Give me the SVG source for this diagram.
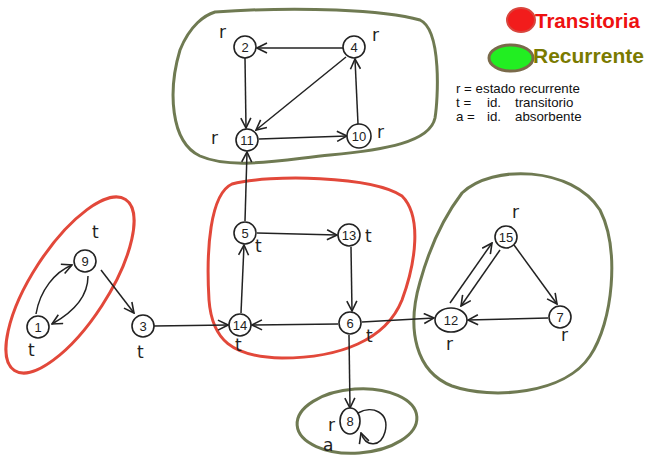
<svg xmlns="http://www.w3.org/2000/svg" width="647" height="458" viewBox="0 0 647 458">
<defs>
<marker id="ah" viewBox="0 0 12 12" refX="11" refY="6" markerWidth="12" markerHeight="12" markerUnits="userSpaceOnUse" orient="auto">
<path d="M1,1 L11,6 L1,11" fill="none" stroke="#222" stroke-width="1.6"/>
</marker>
</defs>
<style>
.bg{fill:#fff}
.red{fill:none;stroke:#e2483a;stroke-width:3}
.grn{fill:none;stroke:#6f7a52;stroke-width:3}
.node circle,.node ellipse{fill:#fff;stroke:#222;stroke-width:1.6}
.num{font-family:"Liberation Sans",Arial,sans-serif;font-size:13px;fill:#222;text-anchor:middle}
.lab{font-family:"DejaVu Sans","Liberation Sans",sans-serif;font-size:17px;fill:#222}
.edge{fill:none;stroke:#222;stroke-width:1.5;marker-end:url(#ah)}
.leg{font-family:"Liberation Sans",Arial,sans-serif;font-size:13.3px;fill:#111}
</style>
<rect class="bg" width="647" height="458"/>
<g id="regions">
<path class="grn" d="M215 12 C300 6,385 10,420 20 C442 30,438 100,435 118 C430 142,385 150,330 155 C280 160,232 170,200 156 C170 142,168 90,180 50 C190 25,205 15,215 12 Z"/>
<ellipse class="red" cx="70" cy="285" rx="102" ry="38" transform="rotate(-57 70 285)"/>
<path class="red" d="M232 184 C270 174,372 176,402 196 C422 216,416 262,402 300 C386 340,340 358,282 358 C232 357,212 340,209 300 C206 250,210 194,232 184 Z"/>
<path class="grn" d="M462 193 C492 164,572 166,600 210 C620 250,613 322,590 356 C565 394,492 400,452 386 C416 372,406 330,420 282 C430 246,446 214,462 193 Z"/>
<ellipse class="grn" cx="357" cy="421" rx="60" ry="32" transform="rotate(-4 357 421)"/>
</g>
<g id="connectors">
<line class="edge" x1="343" y1="48" x2="257" y2="48"/>
<line class="edge" x1="245" y1="58" x2="246" y2="128"/>
<line class="edge" x1="346" y1="57" x2="256" y2="130"/>
<line class="edge" x1="259" y1="139" x2="347" y2="136"/>
<line class="edge" x1="358" y1="124" x2="355" y2="59"/>
<line class="edge" x1="245" y1="221" x2="247" y2="152"/>
<line class="edge" x1="257" y1="233" x2="337" y2="235"/>
<line class="edge" x1="351" y1="247" x2="352" y2="311"/>
<line class="edge" x1="241" y1="313" x2="244" y2="245"/>
<line class="edge" x1="338" y1="324" x2="252" y2="325"/>
<line class="edge" x1="154" y1="326" x2="228" y2="325"/>
<line class="edge" x1="362" y1="322" x2="434" y2="318"/>
<line class="edge" x1="349" y1="335" x2="350" y2="408"/>
<path class="edge" d="M358 413 C372 405,390 412,385 432 C381 447,366 448,361 433"/>
<path class="edge" d="M88 276 C88 298,70 314,52 324"/>
<path class="edge" d="M36 314 C40 290,55 272,72 265"/>
<line class="edge" x1="101" y1="270" x2="134" y2="313"/>
<line class="edge" x1="450" y1="303" x2="492" y2="243"/>
<line class="edge" x1="500" y1="250" x2="461" y2="306"/>
<line class="edge" x1="514" y1="245" x2="557" y2="304"/>
<line class="edge" x1="548" y1="318" x2="468" y2="320"/>
</g>
<g id="n2" class="node"><circle cx="245" cy="47" r="11"/><text class="num" x="245" y="52">2</text></g>
<g id="n4" class="node"><circle cx="354" cy="47" r="11"/><text class="num" x="354" y="52">4</text></g>
<g id="n11" class="node"><circle cx="247" cy="140" r="11"/><text class="num" x="247" y="145">11</text></g>
<g id="n10" class="node"><circle cx="359" cy="136" r="12"/><text class="num" x="359" y="141">10</text></g>
<g id="n5" class="node"><circle cx="245" cy="233" r="11"/><text class="num" x="245" y="238">5</text></g>
<g id="n13" class="node"><circle cx="349" cy="235" r="11"/><text class="num" x="349" y="240">13</text></g>
<g id="n14" class="node"><circle cx="240" cy="325" r="11"/><text class="num" x="240" y="330">14</text></g>
<g id="n6" class="node"><circle cx="350" cy="323" r="11"/><text class="num" x="350" y="328">6</text></g>
<g id="n9" class="node"><circle cx="85" cy="261" r="11"/><text class="num" x="85" y="266">9</text></g>
<g id="n1" class="node"><circle cx="38" cy="327" r="11"/><text class="num" x="38" y="332">1</text></g>
<g id="n3" class="node"><circle cx="143" cy="326" r="11"/><text class="num" x="143" y="331">3</text></g>
<g id="n15" class="node"><circle cx="506" cy="237" r="11"/><text class="num" x="506" y="242">15</text></g>
<g id="n12" class="node"><ellipse cx="451" cy="320" rx="16" ry="12"/><text class="num" x="451" y="325">12</text></g>
<g id="n7" class="node"><circle cx="560" cy="317" r="11"/><text class="num" x="560" y="322">7</text></g>
<g id="n8" class="node"><ellipse cx="350" cy="421" rx="10" ry="13"/><text class="num" x="350" y="426">8</text></g>
<g id="labels">
<text class="lab" x="219" y="38">r</text>
<text class="lab" x="372" y="41">r</text>
<text class="lab" x="211" y="144">r</text>
<text class="lab" x="377" y="138">r</text>
<text class="lab" x="92" y="238">t</text>
<text class="lab" x="28" y="356">t</text>
<text class="lab" x="137" y="358">t</text>
<text class="lab" x="255" y="252">t</text>
<text class="lab" x="365" y="242">t</text>
<text class="lab" x="235" y="351">t</text>
<text class="lab" x="366" y="342">t</text>
<text class="lab" x="512" y="218">r</text>
<text class="lab" x="446" y="350">r</text>
<text class="lab" x="561" y="341">r</text>
<text class="lab" x="328" y="431" font-size="14">r</text>
<text class="lab" x="323" y="451" font-size="14">a</text>
</g>
<g id="legend">
<ellipse cx="521" cy="20" rx="14" ry="12" fill="#f21c1c" stroke="#d9463e" stroke-width="2"/>
<text x="535" y="28" font-family="Liberation Sans,Arial,sans-serif" font-weight="bold" font-size="20.5" fill="#ee1111">Transitoria</text>
<ellipse cx="511" cy="58" rx="22" ry="13" fill="#22ee22" stroke="#7a6a4a" stroke-width="3"/>
<text x="533" y="63" font-family="Liberation Sans,Arial,sans-serif" font-weight="bold" font-size="21" fill="#7a7a00">Recurrente</text>
<text class="leg" x="456" y="93">r = estado recurrente</text>
<text class="leg" y="107"><tspan x="456">t =</tspan><tspan x="487">id.</tspan><tspan x="515">transitorio</tspan></text>
<text class="leg" y="121"><tspan x="456">a =</tspan><tspan x="487">id.</tspan><tspan x="515">absorbente</tspan></text>
</g>
</svg>
